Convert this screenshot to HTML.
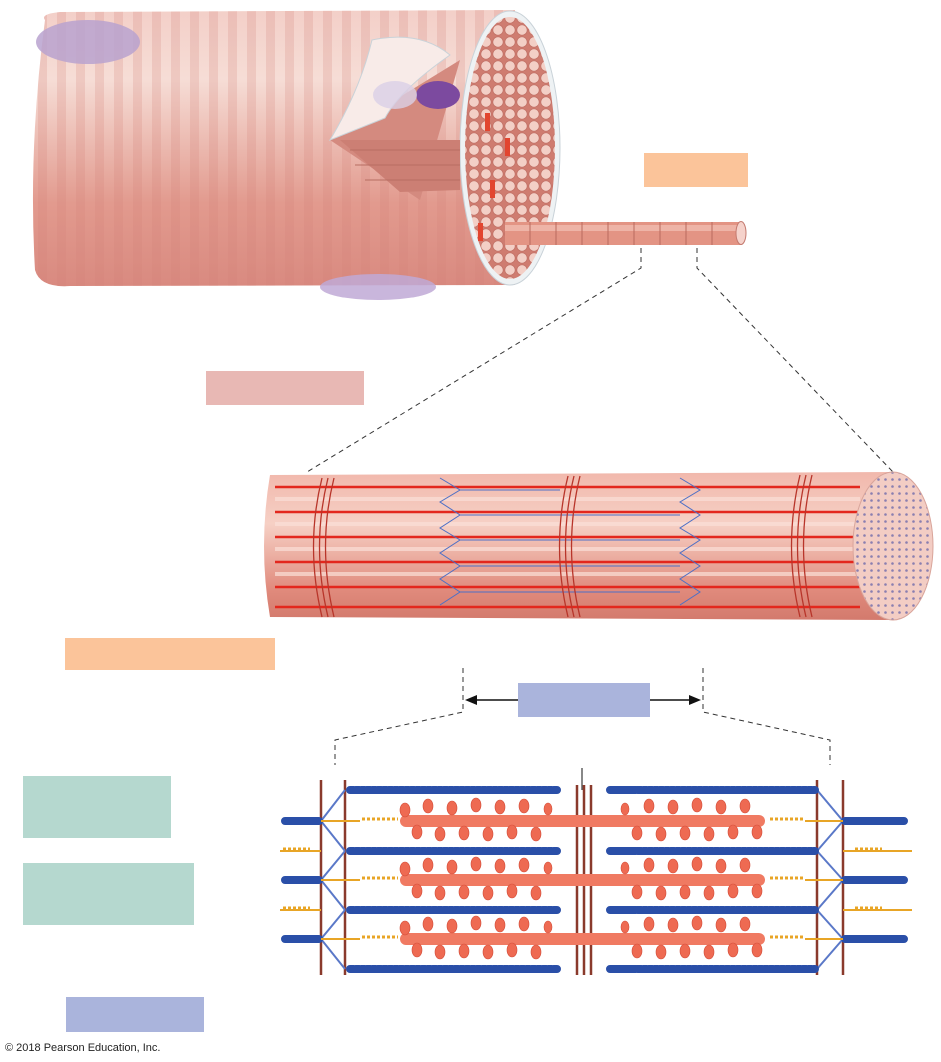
<!DOCTYPE html>
<html><head><meta charset="utf-8"><style>
html,body{margin:0;padding:0;background:#fff;}
svg{display:block;}
</style></head><body>
<svg width="941" height="1062" viewBox="0 0 941 1062" xmlns="http://www.w3.org/2000/svg">
<defs>
<linearGradient id="cyl" x1="0" y1="0" x2="0" y2="1">
<stop offset="0" stop-color="#f3cfc8"/><stop offset="0.25" stop-color="#f6ddd6"/><stop offset="0.7" stop-color="#e29a8e"/><stop offset="1" stop-color="#d98a80"/>
</linearGradient>
<pattern id="stripe" width="19" height="10" patternUnits="userSpaceOnUse">
<rect x="0" width="9" height="10" fill="#d07f74" opacity="0.22"/>
</pattern>
<pattern id="circ" width="12" height="12" patternUnits="userSpaceOnUse">
<rect width="12" height="12" fill="#cf7c70"/><circle cx="6" cy="6" r="5.2" fill="#f3cfc6" stroke="#c06e63" stroke-width="0.7"/>
</pattern>
<linearGradient id="mf" x1="0" y1="0" x2="0" y2="1">
<stop offset="0" stop-color="#f1b8ac"/><stop offset="0.35" stop-color="#f6d0c5"/><stop offset="0.8" stop-color="#e08a7c"/><stop offset="1" stop-color="#d37a6d"/>
</linearGradient>
<pattern id="dots" width="7" height="7" patternUnits="userSpaceOnUse">
<rect width="7" height="7" fill="#f3cdc4"/><circle cx="3.5" cy="3.5" r="1.3" fill="#8a7fb0"/>
</pattern>
</defs>

<path d="M45,20 Q40,14 60,12 L515,10 L515,285 L70,286 Q40,288 35,270 Q28,150 45,20Z" fill="url(#cyl)"/>
<path d="M45,20 Q40,14 60,12 L515,10 L515,285 L70,286 Q40,288 35,270 Q28,150 45,20Z" fill="url(#stripe)"/>
<ellipse cx="88" cy="42" rx="52" ry="22" fill="#b8a2cf" opacity="0.85"/>
<ellipse cx="378" cy="287" rx="58" ry="13" fill="#c0a9d6" opacity="0.85"/>
<ellipse cx="510" cy="148" rx="50" ry="137" fill="#eef2f4" stroke="#c9d2d8"/>
<ellipse cx="510" cy="148" rx="45" ry="131" fill="url(#circ)"/>
<path d="M330,140 L460,60 L420,200 Z" fill="#d48a7f"/>
<path d="M340,140 L460,140 L460,190 L400,192Z" fill="#cc7f74"/>
<g stroke="#b76d62" stroke-width="1"><line x1="350" y1="150" x2="460" y2="150"/><line x1="355" y1="165" x2="460" y2="165"/><line x1="365" y1="180" x2="460" y2="180"/></g>
<path d="M330,140 Q360,90 372,40 Q420,30 450,55 Q400,90 385,118 Z" fill="#f8ebe8" stroke="#c9d2d8"/>
<ellipse cx="438" cy="95" rx="22" ry="14" fill="#7c4a9f"/>
<ellipse cx="395" cy="95" rx="22" ry="14" fill="#d9cfe6" opacity="0.8"/>
<g fill="#e2452f"><rect x="485" y="113" width="5" height="18"/><rect x="505" y="138" width="5" height="18"/><rect x="478" y="223" width="5" height="18"/><rect x="490" y="180" width="5" height="18"/></g>
<rect x="505" y="222" width="236" height="23" fill="#e39484"/>
<rect x="505" y="225" width="236" height="6" fill="#f2c2b6" opacity="0.7"/>
<g stroke="#b96a5e" stroke-width="1"><line x1="530" y1="222" x2="530" y2="245"/><line x1="556" y1="222" x2="556" y2="245"/><line x1="582" y1="222" x2="582" y2="245"/><line x1="608" y1="222" x2="608" y2="245"/><line x1="634" y1="222" x2="634" y2="245"/><line x1="660" y1="222" x2="660" y2="245"/><line x1="686" y1="222" x2="686" y2="245"/><line x1="712" y1="222" x2="712" y2="245"/></g>
<ellipse cx="741" cy="233" rx="5" ry="11.5" fill="#f5d2cb" stroke="#c47a6f"/>

<rect x="644" y="153" width="104" height="34" fill="#fbc49a"/>
<rect x="206" y="371" width="158" height="34" fill="#e8b8b4"/>
<rect x="65" y="638" width="210" height="32" fill="#fbc49a"/>
<rect x="518" y="683" width="132" height="34" fill="#aab4dc"/>
<rect x="23" y="776" width="148" height="62" fill="#b5d8cf"/>
<rect x="23" y="863" width="171" height="62" fill="#b5d8cf"/>
<rect x="66" y="997" width="138" height="35" fill="#aab4dc"/>

<g stroke="#333" stroke-width="1" stroke-dasharray="5,4" fill="none">
<path d="M641,248 V268 L307,472"/>
<path d="M697,248 V268 L893,472"/>
<path d="M463,668 V712 L335,740 V765"/>
<path d="M703,668 V712 L830,740 V765"/>
</g>
<line x1="472" y1="700" x2="518" y2="700" stroke="#111" stroke-width="1.5"/>
<line x1="650" y1="700" x2="694" y2="700" stroke="#111" stroke-width="1.5"/>
<path d="M465,700 L477,695 L477,705Z" fill="#111"/>
<path d="M701,700 L689,695 L689,705Z" fill="#111"/>

<path d="M270,475 L893,472 L893,620 L270,617 Q258,546 270,475Z" fill="url(#mf)"/>
<g stroke="#e3271d" stroke-width="2.5">
<line x1="275" y1="487" x2="860" y2="487"/><line x1="275" y1="512" x2="860" y2="512"/><line x1="275" y1="537" x2="860" y2="537"/><line x1="275" y1="562" x2="860" y2="562"/><line x1="275" y1="587" x2="860" y2="587"/><line x1="275" y1="607" x2="860" y2="607"/>
</g>
<g stroke="#fbe0d8" stroke-width="4" opacity="0.7">
<line x1="275" y1="499" x2="860" y2="499"/><line x1="275" y1="524" x2="860" y2="524"/><line x1="275" y1="549" x2="860" y2="549"/><line x1="275" y1="574" x2="860" y2="574"/>
</g>
<g stroke="#4c6fc6" stroke-width="1" fill="none">
<path d="M440,478 L460,490 L440,502 L460,515 L440,528 L460,540 L440,553 L460,566 L440,579 L460,592 L440,605"/>
<path d="M680,478 L700,490 L680,502 L700,515 L680,528 L700,540 L680,553 L700,566 L680,579 L700,592 L680,605"/>
<line x1="460" y1="490" x2="560" y2="490"/><line x1="460" y1="515" x2="680" y2="515"/><line x1="460" y1="540" x2="680" y2="540"/><line x1="460" y1="566" x2="680" y2="566"/><line x1="460" y1="592" x2="680" y2="592"/>
</g>
<g stroke="#b8352a" stroke-width="1.3" fill="none">
<path d="M322,478 Q305,546 322,617"/><path d="M328,478 Q311,546 328,617"/><path d="M334,478 Q317,546 334,617"/>
<path d="M568,476 Q551,546 568,617"/><path d="M574,476 Q557,546 574,617"/><path d="M580,476 Q563,546 580,617"/>
<path d="M800,475 Q783,546 800,617"/><path d="M806,475 Q789,546 806,617"/><path d="M812,475 Q795,546 812,617"/>
</g>
<ellipse cx="893" cy="546" rx="40" ry="74" fill="url(#dots)" stroke="#d9a59b"/>

<g stroke="#8a3a2c" stroke-width="2.5">
<line x1="321" y1="780" x2="321" y2="975"/><line x1="345" y1="780" x2="345" y2="975"/>
<line x1="817" y1="780" x2="817" y2="975"/><line x1="843" y1="780" x2="843" y2="975"/>
<line x1="577" y1="785" x2="577" y2="975"/><line x1="584" y1="785" x2="584" y2="975"/><line x1="591" y1="785" x2="591" y2="975"/>
</g>
<line x1="582" y1="768" x2="582" y2="790" stroke="#111" stroke-width="1"/>
<g stroke="#5a78c8" stroke-width="2">
<path d="M321,821 L345,790 M321,821 L345,851 M321,880 L345,851 M321,880 L345,910 M321,939 L345,910 M321,939 L345,969"/>
<path d="M843,821 L817,790 M843,821 L817,851 M843,880 L817,851 M843,880 L817,910 M843,939 L817,910 M843,939 L817,969"/>
</g>
<g stroke="#2a4fa8" stroke-width="8" stroke-dasharray="4,1.5" stroke-linecap="round">
<line x1="350" y1="790" x2="557" y2="790"/><line x1="350" y1="851" x2="557" y2="851"/><line x1="350" y1="910" x2="557" y2="910"/><line x1="350" y1="969" x2="557" y2="969"/>
<line x1="610" y1="790" x2="815" y2="790"/><line x1="610" y1="851" x2="815" y2="851"/><line x1="610" y1="910" x2="815" y2="910"/><line x1="610" y1="969" x2="815" y2="969"/>
<line x1="285" y1="821" x2="319" y2="821"/><line x1="285" y1="880" x2="319" y2="880"/><line x1="285" y1="939" x2="319" y2="939"/>
<line x1="845" y1="821" x2="905" y2="821"/><line x1="845" y1="880" x2="905" y2="880"/><line x1="845" y1="939" x2="905" y2="939"/>
</g>
<g stroke="#e8a526" stroke-width="2" fill="none">
<line x1="321" y1="821" x2="360" y2="821"/><line x1="321" y1="880" x2="360" y2="880"/><line x1="321" y1="939" x2="360" y2="939"/>
<line x1="805" y1="821" x2="843" y2="821"/><line x1="805" y1="880" x2="843" y2="880"/><line x1="805" y1="939" x2="843" y2="939"/>
<line x1="280" y1="851" x2="321" y2="851"/><line x1="280" y1="910" x2="321" y2="910"/>
<line x1="843" y1="851" x2="912" y2="851"/><line x1="843" y1="910" x2="912" y2="910"/>
</g>
<g fill="none" stroke="#e8a526" stroke-width="3" stroke-dasharray="3,2">
<line x1="362" y1="819" x2="398" y2="819"/><line x1="362" y1="878" x2="398" y2="878"/><line x1="362" y1="937" x2="398" y2="937"/>
<line x1="770" y1="819" x2="803" y2="819"/><line x1="770" y1="878" x2="803" y2="878"/><line x1="770" y1="937" x2="803" y2="937"/>
<line x1="283" y1="849" x2="310" y2="849"/><line x1="283" y1="908" x2="310" y2="908"/>
<line x1="855" y1="849" x2="882" y2="849"/><line x1="855" y1="908" x2="882" y2="908"/>
</g>
<g>
<rect x="400" y="815" width="365" height="12" rx="6" fill="#f07a62"/>
<rect x="400" y="874" width="365" height="12" rx="6" fill="#f07a62"/>
<rect x="400" y="933" width="365" height="12" rx="6" fill="#f07a62"/>
</g>
<g fill="#ee6a52" stroke="#d44e3a" stroke-width="0.6">
<g id="heads">
<ellipse cx="405" cy="810" rx="5" ry="7"/><ellipse cx="417" cy="832" rx="5" ry="7"/><ellipse cx="428" cy="806" rx="5" ry="7"/><ellipse cx="440" cy="834" rx="5" ry="7"/><ellipse cx="452" cy="808" rx="5" ry="7"/><ellipse cx="464" cy="833" rx="5" ry="7"/><ellipse cx="476" cy="805" rx="5" ry="7"/><ellipse cx="488" cy="834" rx="5" ry="7"/><ellipse cx="500" cy="807" rx="5" ry="7"/><ellipse cx="512" cy="832" rx="5" ry="7"/><ellipse cx="524" cy="806" rx="5" ry="7"/><ellipse cx="536" cy="834" rx="5" ry="7"/><ellipse cx="548" cy="809" rx="4" ry="6"/>
<ellipse cx="625" cy="809" rx="4" ry="6"/><ellipse cx="637" cy="833" rx="5" ry="7"/><ellipse cx="649" cy="806" rx="5" ry="7"/><ellipse cx="661" cy="834" rx="5" ry="7"/><ellipse cx="673" cy="807" rx="5" ry="7"/><ellipse cx="685" cy="833" rx="5" ry="7"/><ellipse cx="697" cy="805" rx="5" ry="7"/><ellipse cx="709" cy="834" rx="5" ry="7"/><ellipse cx="721" cy="807" rx="5" ry="7"/><ellipse cx="733" cy="832" rx="5" ry="7"/><ellipse cx="745" cy="806" rx="5" ry="7"/><ellipse cx="757" cy="832" rx="5" ry="7"/>
</g>
<use href="#heads" y="59"/>
<use href="#heads" y="118"/>
</g>

<text x="5" y="1051" font-family="Liberation Sans, sans-serif" font-size="11" fill="#222">© 2018 Pearson Education, Inc.</text>
</svg>
</body></html>
